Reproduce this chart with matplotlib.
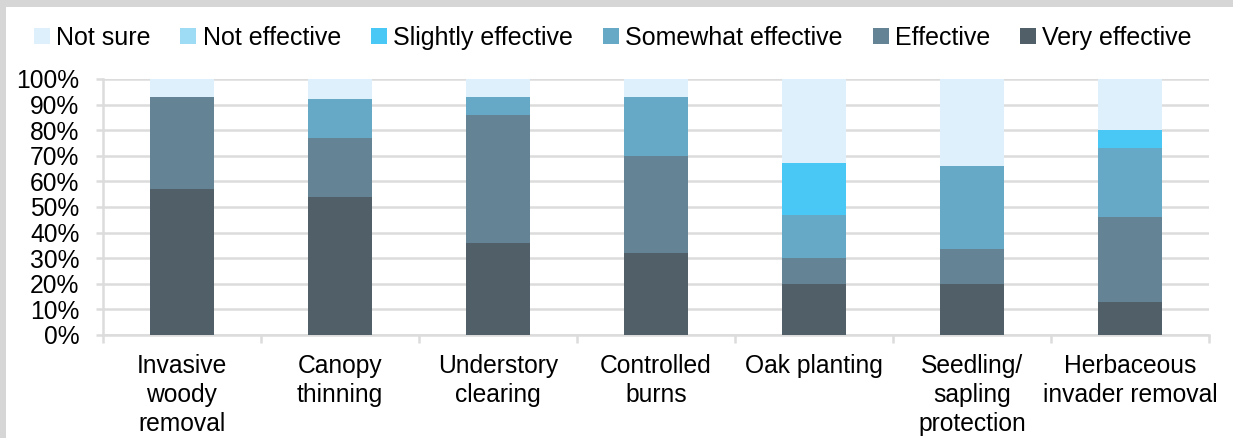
import numpy as np
import matplotlib.pyplot as plt
from matplotlib.patches import Rectangle

plt.rcParams['font.family'] = ['Liberation Sans', 'DejaVu Sans']

# data (percent of respondents)
categories = ['Invasive\nwoody\nremoval', 'Canopy\nthinning', 'Understory\nclearing',
              'Controlled\nburns', 'Oak planting', 'Seedling/\nsapling\nprotection',
              'Herbaceous\ninvader removal']
very_effective = [57, 54, 36, 32, 20, 20, 13]
effective = [36, 23, 50, 38, 10, 13.5, 33]
somewhat_effective = [0, 15, 7, 23, 17, 32.5, 27]
slightly_effective = [0, 0, 0, 0, 20, 0, 7]
not_effective = [0, 0, 0, 0, 0, 0, 0]
not_sure = [7, 8, 7, 7, 33, 34, 20]

series = [
    ('Very effective', very_effective, '#515f68'),
    ('Effective', effective, '#648495'),
    ('Somewhat effective', somewhat_effective, '#66a9c6'),
    ('Slightly effective', slightly_effective, '#4ac8f5'),
    ('Not effective', not_effective, '#9edcf6'),
    ('Not sure', not_sure, '#ddf0fb'),
]

fig = plt.figure(figsize=(12.33, 4.38), dpi=100, facecolor='#d6d6d6')
fig.patches.append(Rectangle((6/1233, 0), 1, 1 - 7/438, transform=fig.transFigure,
                             facecolor='white', edgecolor='none', zorder=-5))

# axes: left spine ~x=102, right ~x=1208, 0% at y=335, 100% at y=79
ax = fig.add_axes([103/1233, 103/438, 1106/1233, 256/438])
ax.set_facecolor('white')
x = np.arange(len(categories))
bottom = np.zeros(len(categories))
handles = {}
for name, vals, col in series:
    b = ax.bar(x, vals, 0.4, bottom=bottom, color=col, zorder=3, label=name)
    handles[name] = b
    bottom += np.array(vals)

ax.set_xlim(-0.5, len(categories) - 0.5)
ax.set_ylim(0, 100)
ax.set_yticks(np.arange(0, 101, 10))
ax.set_yticklabels(['%d%%' % v for v in range(0, 101, 10)], fontsize=17.7)
ax.yaxis.grid(True, color='#dcdcdc', linewidth=1.8, zorder=0)
ax.tick_params(axis='y', length=5, width=1.8, color='#dcdcdc', pad=12)

ax.set_xticks(x)
ax.set_xticklabels(categories, fontsize=17.7, linespacing=1.24)
ax.set_xticks(np.arange(-0.5, len(categories)), minor=True)
ax.tick_params(axis='x', which='major', length=0, pad=14)
ax.tick_params(axis='x', which='minor', length=6, width=1.8, color='#dcdcdc')

for side in ['top', 'right']:
    ax.spines[side].set_visible(False)
for side in ['left', 'bottom']:
    ax.spines[side].set_color('#dcdcdc')
    ax.spines[side].set_linewidth(1.8)

order = ['Not sure', 'Not effective', 'Slightly effective', 'Somewhat effective',
         'Effective', 'Very effective']
fig.legend([handles[n] for n in order], order, loc='center', ncol=6,
           bbox_to_anchor=(0.497, 0.914), frameon=False, fontsize=18,
           handlelength=0.64, handleheight=0.64, handletextpad=0.25,
           columnspacing=1.2)

fig.savefig('out.png', dpi=100, facecolor=fig.get_facecolor())
